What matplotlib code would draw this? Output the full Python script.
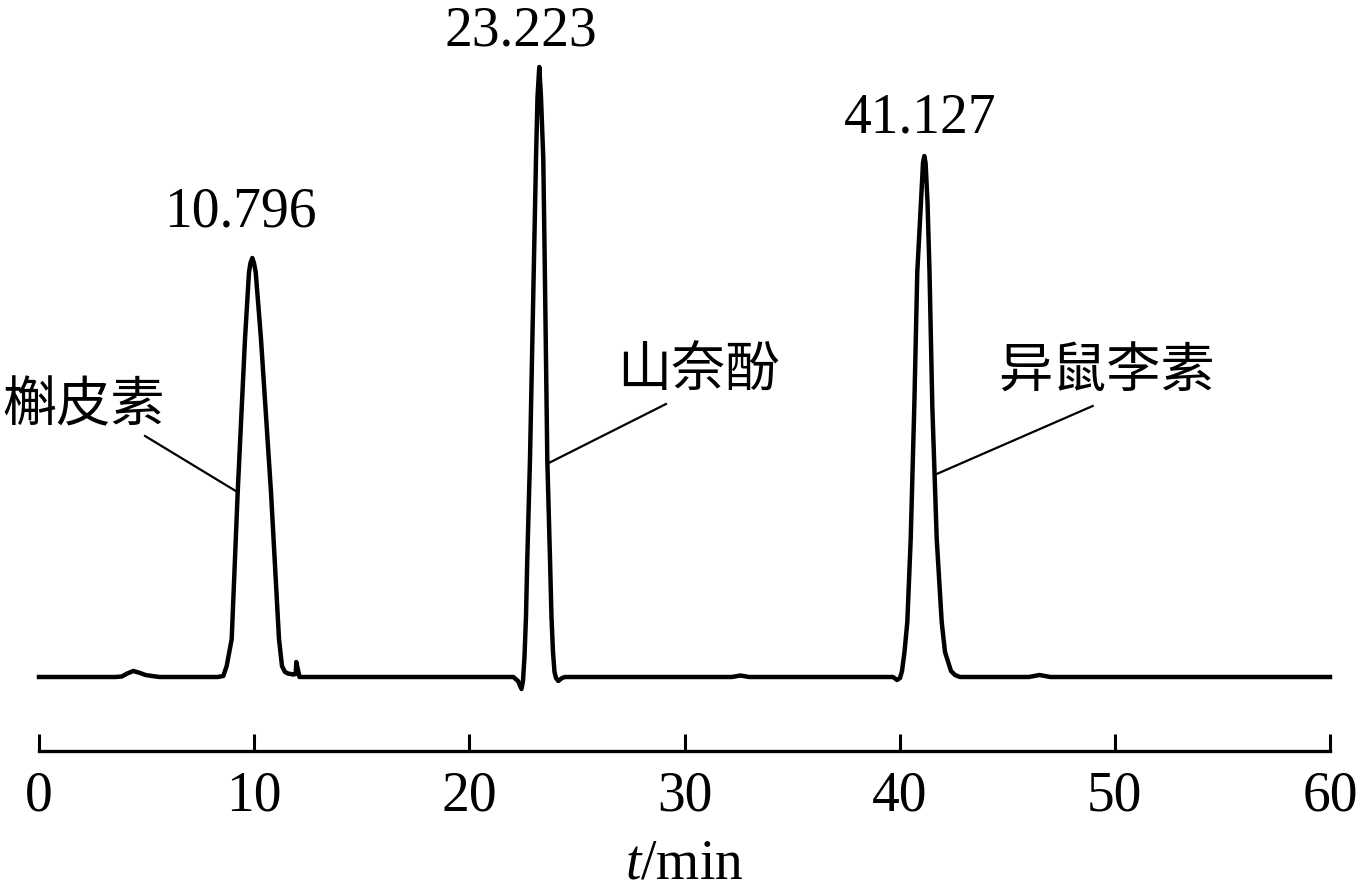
import matplotlib
matplotlib.use("Agg")
import matplotlib.pyplot as plt

plt.rcParams['font.family'] = ['Liberation Serif', 'DejaVu Serif']
plt.rcParams['mathtext.fontset'] = 'custom'
plt.rcParams['mathtext.rm'] = 'Liberation Serif'
plt.rcParams['mathtext.it'] = 'Liberation Serif:italic'

# chromatogram trace (t in min, response in arbitrary units, baseline = 0)
time_min = [0.0, 3.55, 3.85, 4.10, 4.38, 4.70, 4.95, 5.25, 5.60,
            8.30, 8.565, 8.723, 8.956, 9.235, 9.574, 9.760, 9.829, 9.913, 9.990, 10.071,
            10.317, 10.782, 11.154, 11.293, 11.433, 11.572, 11.82, 11.93, 11.958, 12.107,
            22.043, 22.262, 22.424, 22.494, 22.563, 22.633, 22.693, 22.819, 22.912, 23.005,
            23.098, 23.168, 23.251, 23.330, 23.437, 23.502, 23.563, 23.623, 23.749, 23.818,
            23.888, 23.958, 24.028, 24.135, 24.307, 24.446,
            32.2, 32.6, 33.0,
            39.690, 39.876, 40.016, 40.109, 40.224, 40.355, 40.513, 40.680, 40.819, 40.991,
            41.084, 41.145, 41.205, 41.294, 41.387, 41.517, 41.722, 41.954, 42.107, 42.386,
            42.572, 42.804,
            46.0, 46.5, 47.0, 60.0]
signal = [0, 0, 0.5, 3.5, 6, 4, 2, 1, 0,
          0, 1, 11, 38, 185, 338, 405, 414, 419, 414, 405,
          338, 185, 38, 11, 5, 3.5, 2.5, 3, 15, 0,
          0, -4, -12, -4, 20, 60, 118, 218, 318, 418,
          518, 580, 610, 580, 518, 418, 318, 218, 118, 60,
          25, 5, -1, -4, -1, 0,
          0, 1.5, 0,
          0, -3, -1, 6, 25, 55, 138, 271, 405, 475,
          514, 521, 514, 475, 405, 271, 138, 55, 25, 6,
          2, 0,
          0, 2, 0, 0]

# retention time labels
rt_labels = ['10.796', '23.223', '41.127']
rt_pos = [(9.34, 466), (22.40, 647), (40.94, 560)]

# compound names with leader lines
compounds = ['槲皮素', '山奈酚', '异鼠李素']
name_pos = [(2.09, 272), (30.63, 307), (49.59, 306)]
leader_start = [(4.93, 241), (29.14, 273), (48.97, 271)]
leader_end = [(9.22, 185), (23.60, 213), (41.72, 203)]

x_ticks = [0, 10, 20, 30, 40, 50, 60]

fig = plt.figure(figsize=(13.59, 8.95), dpi=100)
ax = fig.add_axes([39 / 1359, 143 / 895, 1291 / 1359, 752 / 895])

ax.plot(time_min, signal, color='black', lw=3.2, solid_joinstyle='round', clip_on=False)

for (x0, y0), (x1, y1) in zip(leader_start, leader_end):
    ax.plot([x0, x1], [y0, y1], color='black', lw=1.6)

for txt, (x, y) in zip(rt_labels, rt_pos):
    ax.text(x, y, txt, fontsize=40, ha='center', va='center', clip_on=False)

for txt, (x, y) in zip(compounds, name_pos):
    ax.text(x, y, txt, fontsize=39, ha='center', va='center',
            family=['Noto Sans CJK SC', 'DejaVu Sans'], clip_on=False)

ax.set_xlim(0, 60)
ax.set_ylim(-74, 678)
ax.set_xticks(x_ticks)
ax.set_yticks([])
for s in ['top', 'right', 'left']:
    ax.spines[s].set_visible(False)
ax.spines['bottom'].set_linewidth(2.4)
ax.tick_params(axis='x', direction='in', length=12, width=2.2, labelsize=40, pad=13)
ax.set_xlabel('$t$/min', fontsize=40, labelpad=12)

fig.savefig('out.png', dpi=100)
